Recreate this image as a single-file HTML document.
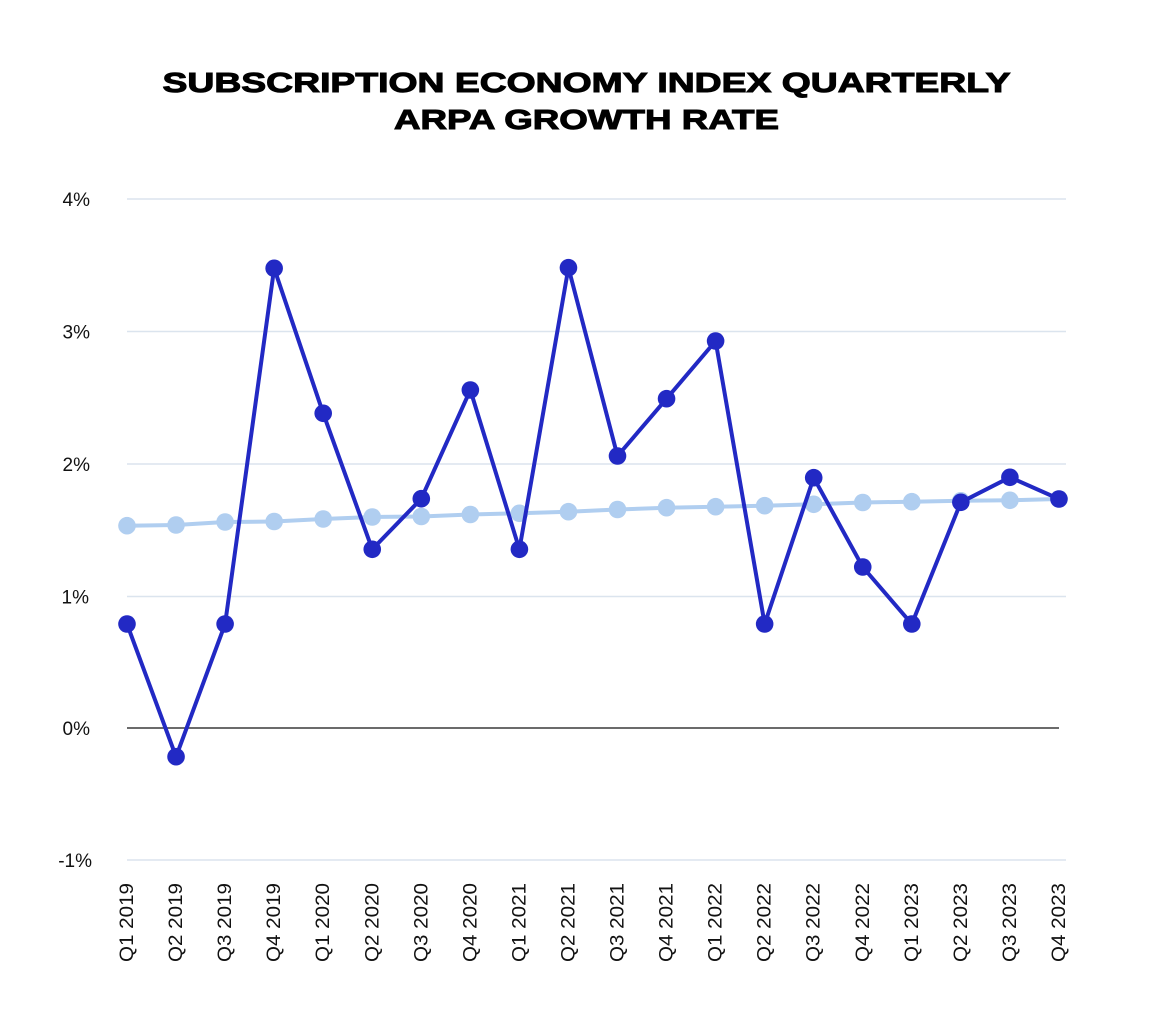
<!DOCTYPE html>
<html>
<head>
<meta charset="utf-8">
<style>
  html, body { margin:0; padding:0; background:#ffffff; }
  svg { display:block; }
  text { font-family: "Liberation Sans", Arial, sans-serif; }
</style>
</head>
<body>
<svg width="1174" height="1036" viewBox="0 0 1174 1036" xmlns="http://www.w3.org/2000/svg">
  <rect width="1174" height="1036" fill="#ffffff"/>
  <!-- Title -->
  <text x="162.5" y="92" font-size="28" font-weight="bold" fill="#000" stroke="#000" stroke-width="1" textLength="848" lengthAdjust="spacingAndGlyphs">SUBSCRIPTION ECONOMY INDEX QUARTERLY</text>
  <text x="394" y="129" font-size="28" font-weight="bold" fill="#000" stroke="#000" stroke-width="1" textLength="385" lengthAdjust="spacingAndGlyphs">ARPA GROWTH RATE</text>

  <!-- Gridlines -->
  <g stroke="#dbe4ee" stroke-width="1.5">
    <line x1="127" y1="199" x2="1066" y2="199"/>
    <line x1="127" y1="331.5" x2="1066" y2="331.5"/>
    <line x1="127" y1="464" x2="1066" y2="464"/>
    <line x1="127" y1="596.5" x2="1066" y2="596.5"/>
    <line x1="127" y1="860" x2="1066" y2="860"/>
  </g>
  <line x1="127" y1="728" x2="1059" y2="728" stroke="#3a3a3a" stroke-width="1.5"/>

  <!-- Y labels -->
  <g font-size="19" fill="#111" text-anchor="end">
    <text x="90" y="206">4%</text>
    <text x="90" y="338.5">3%</text>
    <text x="90" y="471">2%</text>
    <text x="89" y="603.5">1%</text>
    <text x="90" y="735">0%</text>
    <text x="92" y="867">-1%</text>
  </g>

  <!-- X labels -->
  <g font-size="19" fill="#111" text-anchor="end">
    <text transform="translate(133,883) rotate(-90)" textLength="79" lengthAdjust="spacingAndGlyphs">Q1 2019</text>
    <text transform="translate(182.05,883) rotate(-90)" textLength="79" lengthAdjust="spacingAndGlyphs">Q2 2019</text>
    <text transform="translate(231.1,883) rotate(-90)" textLength="79" lengthAdjust="spacingAndGlyphs">Q3 2019</text>
    <text transform="translate(280.15,883) rotate(-90)" textLength="79" lengthAdjust="spacingAndGlyphs">Q4 2019</text>
    <text transform="translate(329.2,883) rotate(-90)" textLength="79" lengthAdjust="spacingAndGlyphs">Q1 2020</text>
    <text transform="translate(378.25,883) rotate(-90)" textLength="79" lengthAdjust="spacingAndGlyphs">Q2 2020</text>
    <text transform="translate(427.3,883) rotate(-90)" textLength="79" lengthAdjust="spacingAndGlyphs">Q3 2020</text>
    <text transform="translate(476.35,883) rotate(-90)" textLength="79" lengthAdjust="spacingAndGlyphs">Q4 2020</text>
    <text transform="translate(525.4,883) rotate(-90)" textLength="79" lengthAdjust="spacingAndGlyphs">Q1 2021</text>
    <text transform="translate(574.45,883) rotate(-90)" textLength="79" lengthAdjust="spacingAndGlyphs">Q2 2021</text>
    <text transform="translate(623.5,883) rotate(-90)" textLength="79" lengthAdjust="spacingAndGlyphs">Q3 2021</text>
    <text transform="translate(672.55,883) rotate(-90)" textLength="79" lengthAdjust="spacingAndGlyphs">Q4 2021</text>
    <text transform="translate(721.6,883) rotate(-90)" textLength="79" lengthAdjust="spacingAndGlyphs">Q1 2022</text>
    <text transform="translate(770.65,883) rotate(-90)" textLength="79" lengthAdjust="spacingAndGlyphs">Q2 2022</text>
    <text transform="translate(819.7,883) rotate(-90)" textLength="79" lengthAdjust="spacingAndGlyphs">Q3 2022</text>
    <text transform="translate(868.75,883) rotate(-90)" textLength="79" lengthAdjust="spacingAndGlyphs">Q4 2022</text>
    <text transform="translate(917.8,883) rotate(-90)" textLength="79" lengthAdjust="spacingAndGlyphs">Q1 2023</text>
    <text transform="translate(966.85,883) rotate(-90)" textLength="79" lengthAdjust="spacingAndGlyphs">Q2 2023</text>
    <text transform="translate(1015.9,883) rotate(-90)" textLength="79" lengthAdjust="spacingAndGlyphs">Q3 2023</text>
    <text transform="translate(1064.95,883) rotate(-90)" textLength="79" lengthAdjust="spacingAndGlyphs">Q4 2023</text>
  </g>

  <!-- Light series -->
  <polyline fill="none" stroke="#b0cef0" stroke-width="4" stroke-linejoin="round"
    points="127,525.7 176.05,525 225.1,522 274.15,521.5 323.2,519 372.25,517 421.3,516.5 470.35,514.5 519.4,513.3 568.45,511.7 617.5,509.5 666.55,507.7 715.6,506.7 764.65,505.7 813.7,504.3 862.75,502.5 911.8,501.7 960.85,500.8 1009.9,500.3 1058.95,499"/>
  <g fill="#b0cef0">
    <circle cx="127" cy="525.7" r="8.8"/>
    <circle cx="176.05" cy="525" r="8.8"/>
    <circle cx="225.1" cy="522" r="8.8"/>
    <circle cx="274.15" cy="521.5" r="8.8"/>
    <circle cx="323.2" cy="519" r="8.8"/>
    <circle cx="372.25" cy="517" r="8.8"/>
    <circle cx="421.3" cy="516.5" r="8.8"/>
    <circle cx="470.35" cy="514.5" r="8.8"/>
    <circle cx="519.4" cy="513.3" r="8.8"/>
    <circle cx="568.45" cy="511.7" r="8.8"/>
    <circle cx="617.5" cy="509.5" r="8.8"/>
    <circle cx="666.55" cy="507.7" r="8.8"/>
    <circle cx="715.6" cy="506.7" r="8.8"/>
    <circle cx="764.65" cy="505.7" r="8.8"/>
    <circle cx="813.7" cy="504.3" r="8.8"/>
    <circle cx="862.75" cy="502.5" r="8.8"/>
    <circle cx="911.8" cy="501.7" r="8.8"/>
    <circle cx="960.85" cy="500.8" r="8.8"/>
    <circle cx="1009.9" cy="500.3" r="8.8"/>
    <circle cx="1058.95" cy="499" r="8.8"/>
  </g>

  <!-- Dark series -->
  <polyline fill="none" stroke="#2229c4" stroke-width="4" stroke-linejoin="round"
    points="127,624 176.05,756.7 225.1,624 274.15,268.3 323.2,413.3 372.25,549.3 421.3,498.7 470.35,390 519.4,549.3 568.45,267.7 617.5,456 666.55,398.7 715.6,341 764.65,624 813.7,477.7 862.75,567 911.8,624 960.85,502.3 1009.9,477.3 1058.95,499"/>
  <g fill="#2229c4">
    <circle cx="127" cy="624" r="8.8"/>
    <circle cx="176.05" cy="756.7" r="8.8"/>
    <circle cx="225.1" cy="624" r="8.8"/>
    <circle cx="274.15" cy="268.3" r="8.8"/>
    <circle cx="323.2" cy="413.3" r="8.8"/>
    <circle cx="372.25" cy="549.3" r="8.8"/>
    <circle cx="421.3" cy="498.7" r="8.8"/>
    <circle cx="470.35" cy="390" r="8.8"/>
    <circle cx="519.4" cy="549.3" r="8.8"/>
    <circle cx="568.45" cy="267.7" r="8.8"/>
    <circle cx="617.5" cy="456" r="8.8"/>
    <circle cx="666.55" cy="398.7" r="8.8"/>
    <circle cx="715.6" cy="341" r="8.8"/>
    <circle cx="764.65" cy="624" r="8.8"/>
    <circle cx="813.7" cy="477.7" r="8.8"/>
    <circle cx="862.75" cy="567" r="8.8"/>
    <circle cx="911.8" cy="624" r="8.8"/>
    <circle cx="960.85" cy="502.3" r="8.8"/>
    <circle cx="1009.9" cy="477.3" r="8.8"/>
    <circle cx="1058.95" cy="499" r="8.8"/>
  </g>
</svg>
</body>
</html>
